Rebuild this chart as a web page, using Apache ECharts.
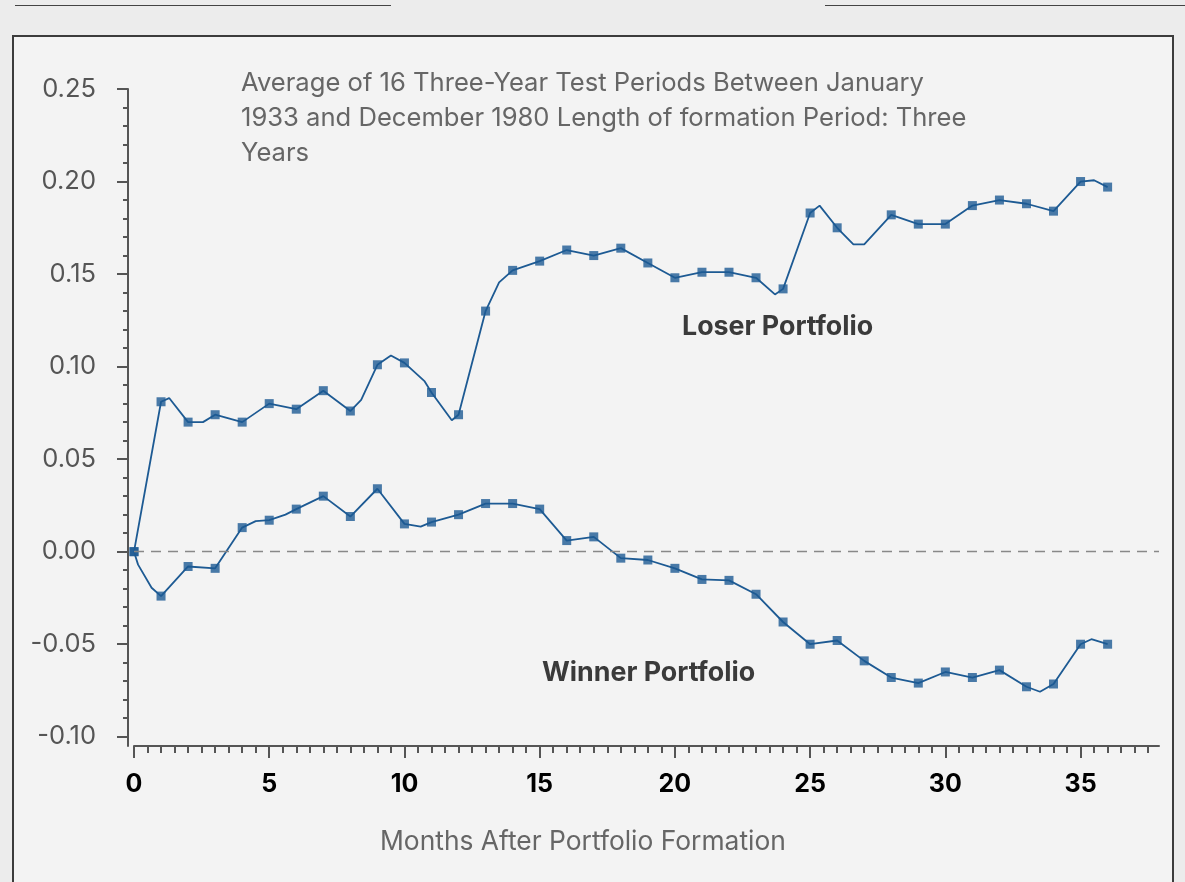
<!DOCTYPE html>
<html>
<head>
    <meta charset="utf-8">
    <title>Winner vs Loser Portfolio</title>
    <style>
        html,body{ margin:0; padding:0; background:#ececec; }
        #frame{ position:absolute; left:12px; top:35px; width:1158px; height:900px; border:2px solid #3c3c3c; background:#f3f3f3; }
        .topline{ position:absolute; top:5px; height:0; border-top:1px solid #444; }
        #main{ position:absolute; left:0; top:0; width:1185px; height:882px; }
    </style>
</head>
<body>
<div class="topline" style="left:15px;width:376px;"></div>
<div class="topline" style="left:825px;width:360px;"></div>
<div id="frame"></div>
<div id="main"></div>

<script src="https://cdn.jsdelivr.net/npm/echarts@6/dist/echarts.min.js"></script>
<script type="text/javascript">
    // months after portfolio formation
    var months = [];
    for (var m = 0; m <= 36; m++) months.push(m);

    // cumulative average residuals, read at each month (null = no marker drawn)
    var loserMarks = [0, 0.081, 0.070, 0.074, 0.070, 0.080, 0.077, 0.087, 0.076, 0.101,
        0.102, 0.086, 0.074, 0.130, 0.152, 0.157, 0.163, 0.160, 0.164, 0.156,
        0.148, 0.151, 0.151, 0.148, 0.142, 0.183, 0.175, null, 0.182, 0.177,
        0.177, 0.187, 0.190, 0.188, 0.184, 0.200, 0.197];
    var winnerMarks = [0, -0.024, -0.008, -0.009, 0.013, 0.017, 0.023, 0.030, 0.019, 0.034,
        0.015, 0.016, 0.020, 0.026, 0.026, 0.023, 0.006, 0.008, -0.0035, -0.0045,
        -0.009, -0.015, -0.0155, -0.023, -0.038, -0.050, -0.048, -0.059, -0.068, -0.071,
        -0.065, -0.068, -0.064, -0.073, -0.0715, -0.050, -0.050];

    // extra bends of the drawn lines between the monthly markers
    var loserBends = [[1.3, 0.083], [2.55, 0.070], [8.4, 0.082], [9.5, 0.106], [10.75, 0.092],
        [11.75, 0.071], [13.5, 0.1455], [23.7, 0.139], [25.35, 0.187], [26.6, 0.166],
        [27, 0.166], [35.5, 0.2007]];
    var winnerBends = [[0.15, -0.007], [0.65, -0.0195], [4.5, 0.0165], [5.6, 0.020],
        [10.6, 0.0135], [33.5, -0.0757], [35.4, -0.0473]];

    var xMajorTicks = [0, 5, 10, 15, 20, 25, 30, 35];
    var yMajorTicks = [-0.10, -0.05, 0.00, 0.05, 0.10, 0.15, 0.20, 0.25];

    var titleText = 'Average of 16 Three-Year Test Periods Between January\n' +
        '1933 and December 1980 Length of formation Period: Three\nYears';

    function markPoints(marks) {
        var out = [];
        marks.forEach(function (v, i) { if (v !== null) out.push([months[i], v]); });
        return out;
    }
    function linePoints(marks, bends) {
        return markPoints(marks).concat(bends).sort(function (a, b) { return a[0] - b[0]; });
    }

    var xMinor = [];
    for (var t = 0.5; t < 37.9; t += 0.5) xMinor.push(t);
    var yMinor = [];
    for (var k = -10; k <= 25; k++) yMinor.push(k / 100);

    var blue = '#1d5a93';
    var font = 'Inter';

    var myChart = echarts.init(document.getElementById('main'));
    myChart.setOption({
        animation: false,
        backgroundColor: 'transparent',
        title: {
            text: titleText,
            left: 241, top: 66, padding: 0,
            textStyle: { fontFamily: font, fontSize: 25.6, fontWeight: 'normal', color: '#666', lineHeight: 35 }
        },
        grid: { left: 134, right: 26, top: 89, bottom: 136 },
        xAxis: [{
            type: 'value', min: 0, max: 37.9,
            axisLine: { show: true, onZero: false, lineStyle: { color: '#555', width: 2 } },
            axisTick: { show: true, customValues: xMajorTicks, length: 12, lineStyle: { color: '#555', width: 2 } },
            axisLabel: { customValues: xMajorTicks, margin: 26, color: '#000', fontSize: 25, fontWeight: 'bold', fontFamily: font },
            splitLine: { show: false }
        }, {
            type: 'value', min: 0, max: 37.9, position: 'bottom',
            axisLine: { show: false, onZero: false },
            axisTick: { show: true, customValues: xMinor, length: 7, lineStyle: { color: '#555', width: 2 } },
            axisLabel: { show: false },
            splitLine: { show: false }
        }],
        yAxis: [{
            type: 'value', min: -0.105, max: 0.25, offset: 6, position: 'left',
            axisLine: { show: true, onZero: false, lineStyle: { color: '#555', width: 2 } },
            axisTick: { show: true, customValues: yMajorTicks, length: 11, lineStyle: { color: '#555', width: 2 } },
            axisLabel: {
                customValues: yMajorTicks, margin: 32, color: '#555', fontSize: 25.5, fontFamily: font,
                formatter: function (v) { return v.toFixed(2); }
            },
            splitLine: { show: false }
        }, {
            type: 'value', min: -0.105, max: 0.25, offset: 6, position: 'left',
            axisLine: { show: false, onZero: false },
            axisTick: { show: true, customValues: yMinor, length: 5, lineStyle: { color: '#555', width: 2 } },
            axisLabel: { show: false },
            splitLine: { show: false }
        }],
        graphic: [
            { type: 'text', left: 682, top: 313, style: { text: 'Loser Portfolio', fontFamily: font, fontSize: 26.8, fontWeight: 'bold', fill: '#3a3a3a' } },
            { type: 'text', left: 542, top: 659, style: { text: 'Winner Portfolio', fontFamily: font, fontSize: 26.8, fontWeight: 'bold', fill: '#3a3a3a' } },
            { type: 'text', left: 380, top: 829, style: { text: 'Months After Portfolio Formation', fontFamily: font, fontSize: 26.4, fill: '#666' } }
        ],
        series: [{
            name: 'Loser Portfolio', type: 'line', showSymbol: false,
            data: linePoints(loserMarks, loserBends),
            lineStyle: { color: blue, width: 1.8 },
            markLine: {
                silent: true, symbol: 'none', label: { show: false },
                lineStyle: { color: '#888', type: [10, 7], width: 1.3 },
                data: [{ yAxis: 0 }]
            }
        }, {
            name: 'Winner Portfolio', type: 'line', showSymbol: false,
            data: linePoints(winnerMarks, winnerBends),
            lineStyle: { color: blue, width: 1.8 }
        }, {
            type: 'scatter', symbol: 'rect', symbolSize: 9, z: 3,
            itemStyle: { color: blue },
            data: markPoints(loserMarks)
        }, {
            type: 'scatter', symbol: 'rect', symbolSize: 9, z: 3,
            itemStyle: { color: blue },
            data: markPoints(winnerMarks)
        }]
    });
</script>
</body>
</html>
